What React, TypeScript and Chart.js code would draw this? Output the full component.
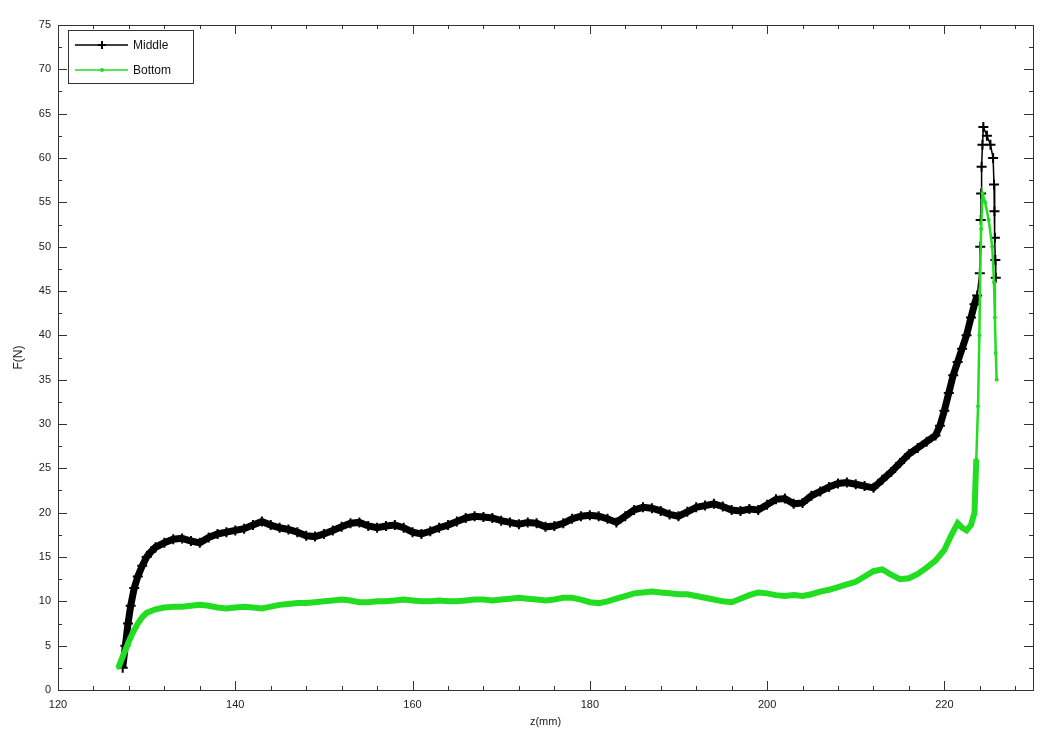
import { useEffect, useRef } from "react";
import { Chart, registerables } from "chart.js";

Chart.register(...registerables);

// ---- data ----
const xTickValues = [120, 140, 160, 180, 200, 220];
const yTickValues = [0, 5, 10, 15, 20, 25, 30, 35, 40, 45, 50, 55, 60, 65, 70, 75];
const xMin = 120;
const xMax = 230;
const yMin = 0;
const yMax = 75;

const middleX = [
  127.3, 127.6, 127.9, 128.2, 128.6, 129, 129.5, 130, 130.5, 131, 132, 133, 134, 135, 136, 137, 138, 139, 140,
  141, 142, 143, 144, 145, 146, 147, 148, 149, 150, 151, 152, 153, 154, 155, 156, 157, 158, 159, 160,
  161, 162, 163, 164, 165, 166, 167, 168, 169, 170, 171, 172, 173, 174, 175, 176, 177, 178, 179, 180,
  181, 182, 183, 184, 185, 186, 187, 188, 189, 190, 191, 192, 193, 194, 195, 196, 197, 198, 199, 200,
  201, 202, 203, 204, 205, 206, 207, 208, 209, 210, 211, 212, 213, 214, 215, 216, 217, 218, 219, 219.5,
  220, 220.5, 221, 221.5, 222, 222.5, 223, 223.4, 223.7, 224, 224.05, 224.1, 224.15, 224.2, 224.3, 224.4,
  224.8, 225.2, 225.5, 225.6, 225.65, 225.7, 225.75, 225.8,
];
const middleY = [
  2.5, 5, 7.5, 9.5, 11.5, 12.8, 14, 15, 15.6, 16.1, 16.6, 17, 17.1, 16.8, 16.6, 17.2, 17.6, 17.8, 18,
  18.2, 18.6, 19, 18.6, 18.3, 18.1, 17.8, 17.4, 17.3, 17.6, 18, 18.4, 18.8, 18.9, 18.5, 18.3, 18.5, 18.6, 18.3, 17.8,
  17.6, 17.9, 18.3, 18.6, 19, 19.4, 19.6, 19.5, 19.4, 19.1, 18.9, 18.7, 18.9, 18.8, 18.4, 18.5, 18.8, 19.3, 19.6, 19.7,
  19.6, 19.3, 18.9, 19.6, 20.3, 20.6, 20.5, 20.2, 19.8, 19.6, 20.1, 20.6, 20.8, 21, 20.7, 20.3, 20.2, 20.4, 20.3, 20.9,
  21.5, 21.6, 21, 21.1, 21.9, 22.4, 22.9, 23.3, 23.4, 23.2, 23, 22.8, 23.7, 24.6, 25.6, 26.6, 27.3, 28, 28.7, 29.8,
  31.5, 33.5, 35.5, 37, 38.5, 40, 42, 43.5, 44.5, 47, 50, 53, 56, 59, 61.5, 63.5,
  62.5, 61.5, 60, 57, 54, 51, 48.5, 46.5,
];

const bottomX = [
  126.8, 127.2, 127.6, 128, 128.5, 129, 129.5, 130, 131, 132, 133, 134, 135, 136, 137, 138, 139, 140,
  141, 142, 143, 144, 145, 146, 147, 148, 149, 150, 151, 152, 153, 154, 155, 156, 157, 158, 159, 160,
  161, 162, 163, 164, 165, 166, 167, 168, 169, 170, 171, 172, 173, 174, 175, 176, 177, 178, 179, 180,
  181, 182, 183, 184, 185, 186, 187, 188, 189, 190, 191, 192, 193, 194, 195, 196, 197, 198, 199, 200,
  201, 202, 203, 204, 205, 206, 207, 208, 209, 210, 211, 212, 213, 214, 215, 216, 217, 218, 219, 220,
  220.8, 221.5, 222, 222.5, 223, 223.4, 223.6, 223.8, 223.95, 224.05, 224.15, 224.3, 224.6, 225, 225.4,
  225.6, 225.7, 225.8, 225.9,
];
const bottomY = [
  2.5, 3.5, 4.5, 5.5, 6.6, 7.5, 8.2, 8.7, 9.1, 9.3, 9.4, 9.4, 9.5, 9.6, 9.5, 9.3, 9.2, 9.3,
  9.4, 9.3, 9.2, 9.4, 9.6, 9.7, 9.8, 9.8, 9.9, 10, 10.1, 10.2, 10.1, 9.9, 9.9, 10, 10, 10.1, 10.2, 10.1,
  10, 10, 10.1, 10, 10, 10.1, 10.2, 10.2, 10.1, 10.2, 10.3, 10.4, 10.3, 10.2, 10.1, 10.2, 10.4, 10.4, 10.2, 9.9,
  9.8, 10, 10.3, 10.6, 10.9, 11, 11.1, 11, 10.9, 10.8, 10.8, 10.6, 10.4, 10.2, 10, 9.9, 10.3, 10.7, 11, 10.9,
  10.7, 10.6, 10.7, 10.6, 10.8, 11.1, 11.3, 11.6, 11.9, 12.2, 12.8, 13.4, 13.6, 13, 12.5, 12.6, 13.1, 13.8, 14.6, 15.8,
  17.5, 18.8, 18.3, 18, 18.6, 20, 26, 32, 40, 47, 52, 56, 55, 53, 50,
  46, 42, 38, 35,
];

const seriesNames = ["Middle", "Bottom"];
const xTitle = "z(mm)";
const yTitle = "F(N)";

const BLACK = "#000000";
const GREEN = "#22dd22";
const AXIS = "#333333";
const FONT = "'Liberation Sans', Arial, sans-serif";
const SPARSE_FROM = 223.5;

const boxTicksPlugin = {
  id: "boxTicks",
  afterDraw(chart: any) {
    const { ctx, chartArea } = chart;
    const { left, right, top, bottom } = chartArea;
    const xs = chart.scales.x;
    const ys = chart.scales.y;
    ctx.save();
    ctx.strokeStyle = AXIS;
    ctx.lineWidth = 1;
    ctx.strokeRect(Math.round(left) + 0.5, Math.round(top) + 0.5, Math.round(right - left), Math.round(bottom - top));
    ctx.beginPath();
    const xStep = xTickValues[1] - xTickValues[0];
    for (let i = 0; i * (xStep / 5) + xMin <= xMax + 1e-9; i++) {
      const v = xMin + i * (xStep / 5);
      const px = Math.round(xs.getPixelForValue(v)) + 0.5;
      const len = i % 5 === 0 ? 9 : 4;
      ctx.moveTo(px, bottom);
      ctx.lineTo(px, bottom - len);
      ctx.moveTo(px, top);
      ctx.lineTo(px, top + len);
    }
    const yStep = yTickValues[1] - yTickValues[0];
    for (let i = 0; i * (yStep / 2) + yMin <= yMax + 1e-9; i++) {
      const v = yMin + i * (yStep / 2);
      const py = Math.round(ys.getPixelForValue(v)) + 0.5;
      const len = i % 2 === 0 ? 9 : 4;
      ctx.moveTo(left, py);
      ctx.lineTo(left + len, py);
      ctx.moveTo(right, py);
      ctx.lineTo(right - len, py);
    }
    ctx.stroke();
    ctx.restore();
  },
};

const legendPlugin = {
  id: "boxLegend",
  afterDraw(chart: any) {
    const { ctx, chartArea } = chart;
    const bx = chartArea.left + 10;
    const by = chartArea.top + 5;
    const bw = 125;
    const bh = 53;
    ctx.save();
    ctx.fillStyle = "#ffffff";
    ctx.fillRect(bx, by, bw, bh);
    ctx.strokeStyle = AXIS;
    ctx.lineWidth = 1;
    ctx.strokeRect(bx + 0.5, by + 0.5, bw, bh);
    const rows = [
      { name: seriesNames[0], color: BLACK, y: by + 15 },
      { name: seriesNames[1], color: GREEN, y: by + 40 },
    ];
    rows.forEach((r, i) => {
      ctx.strokeStyle = r.color;
      ctx.lineWidth = 1.5;
      ctx.beginPath();
      ctx.moveTo(bx + 7, r.y);
      ctx.lineTo(bx + 60, r.y);
      ctx.stroke();
      const mx = bx + 34;
      if (i === 0) {
        ctx.lineWidth = 2;
        ctx.beginPath();
        ctx.moveTo(mx - 4, r.y);
        ctx.lineTo(mx + 4, r.y);
        ctx.moveTo(mx, r.y - 4);
        ctx.lineTo(mx, r.y + 4);
        ctx.stroke();
      } else {
        ctx.fillStyle = r.color;
        ctx.beginPath();
        ctx.arc(mx, r.y, 2, 0, Math.PI * 2);
        ctx.fill();
      }
      ctx.fillStyle = "#111111";
      ctx.font = `12px ${FONT}`;
      ctx.textBaseline = "middle";
      ctx.textAlign = "left";
      ctx.fillText(r.name, bx + 65, r.y + 1);
    });
    ctx.restore();
  },
};

export default function App() {
  const canvasRef = useRef<HTMLCanvasElement | null>(null);

  useEffect(() => {
    document.body.style.margin = "0";
    const canvas = canvasRef.current;
    if (!canvas) return;
    const middle = middleX.map((x, i) => ({ x, y: middleY[i] }));
    const bottom = bottomX.map((x, i) => ({ x, y: bottomY[i] }));

    const chart = new Chart(canvas, {
      type: "line",
      data: {
        datasets: [
          {
            label: seriesNames[1],
            data: bottom,
            borderColor: GREEN,
            backgroundColor: GREEN,
            borderWidth: 6,
            segment: {
              borderWidth: (c: any) => (c.p0.parsed.x >= SPARSE_FROM ? 2.5 : 6),
            },
            pointStyle: "circle",
            pointRadius: 2,
            pointBorderWidth: 0,
            pointBackgroundColor: GREEN,
            tension: 0,
            fill: false,
          },
          {
            label: seriesNames[0],
            data: middle,
            borderColor: BLACK,
            backgroundColor: BLACK,
            borderWidth: 7,
            segment: {
              borderWidth: (c: any) => (c.p0.parsed.x >= SPARSE_FROM ? 1.5 : 7),
            },
            pointStyle: "cross",
            pointRadius: 5,
            pointBorderWidth: 2,
            pointBorderColor: BLACK,
            tension: 0,
            fill: false,
          },
        ],
      },
      options: {
        responsive: false,
        animation: false,
        devicePixelRatio: 1,
        layout: { padding: { top: 25, right: 8, left: 0, bottom: 0 } },
        plugins: {
          legend: { display: false },
          tooltip: { enabled: false },
        },
        scales: {
          x: {
            type: "linear",
            min: xMin,
            max: xMax,
            afterBuildTicks: (s: any) => {
              s.ticks = xTickValues.map((v) => ({ value: v }));
            },
            afterFit: (s: any) => {
              s.height = 46;
            },
            grid: { display: false, drawTicks: false },
            border: { display: false },
            ticks: {
              autoSkip: false,
              maxRotation: 0,
              padding: 8,
              color: "#222222",
              font: { family: FONT, size: 11 },
            },
            title: {
              display: true,
              text: xTitle,
              color: "#222222",
              font: { family: FONT, size: 11 },
              padding: { top: 0, bottom: 7 },
            },
          },
          y: {
            type: "linear",
            min: yMin,
            max: yMax,
            afterBuildTicks: (s: any) => {
              s.ticks = yTickValues.map((v) => ({ value: v }));
            },
            afterFit: (s: any) => {
              s.width = 58;
            },
            grid: { display: false, drawTicks: false },
            border: { display: false },
            ticks: {
              autoSkip: false,
              padding: 7,
              color: "#222222",
              font: { family: FONT, size: 11 },
            },
            title: {
              display: true,
              text: yTitle,
              color: "#222222",
              font: { family: FONT, size: 12 },
              padding: { top: 11, bottom: 0 },
            },
          },
        },
      },
      plugins: [boxTicksPlugin, legendPlugin],
    } as any);
    return () => chart.destroy();
  }, []);

  return (
    <div style={{ position: "fixed", left: 0, top: 0, width: 1041, height: 736, background: "#ffffff" }}>
      <canvas ref={canvasRef} width={1041} height={736} style={{ display: "block" }} />
    </div>
  );
}
